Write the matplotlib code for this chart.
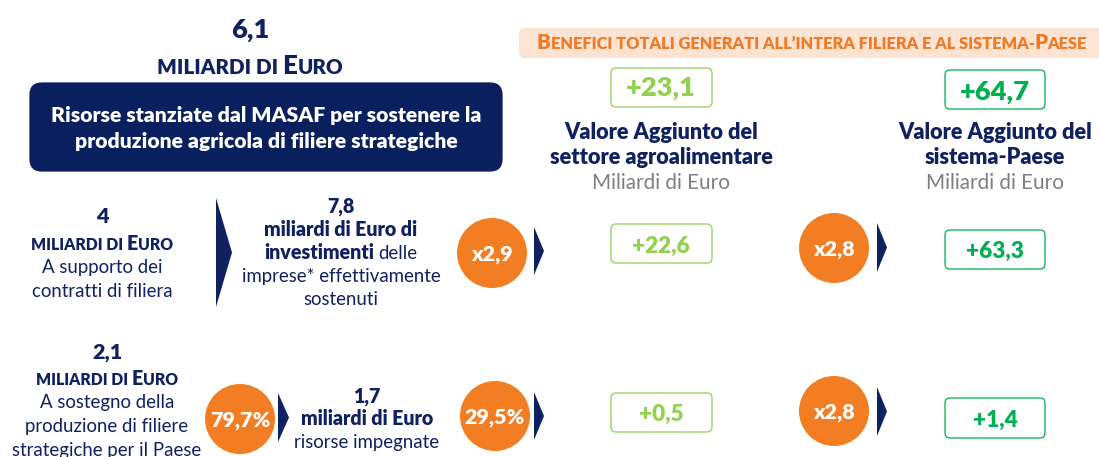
import matplotlib
matplotlib.use('Agg')
import matplotlib.pyplot as plt
from matplotlib.patches import FancyBboxPatch, Circle, Polygon

# ---------------- data ----------------
total_value = '6,1'
unit_label = 'miliardi di Euro'
title_lines = ['Risorse stanziate dal MASAF per sostenere la',
               'produzione agricola di filiere strategiche']
header_text = 'Benefici totali generati all\u2019intera filiera e al sistema-Paese'
row_amounts = ['4', '2,1']
row_desc = [['A supporto dei', 'contratti di filiera'],
            ['A sostegno della', 'produzione di filiere', 'strategiche per il Paese']]
mid_amounts = ['7,8', '1,7']
multiplier_invest = 'x2,9'
percent_labels = ['79,7%', '29,5%']
multiplier_country = ['x2,8', 'x2,8']
va_sector_total = '+23,1'
va_country_total = '+64,7'
va_sector = ['+22,6', '+0,5']
va_country = ['+63,3', '+1,4']
col_titles = [['Valore Aggiunto del', 'settore agroalimentare'],
              ['Valore Aggiunto del', 'sistema-Paese']]
col_unit = 'Miliardi di Euro'

# ---------------- style ----------------
W, H = 1099, 457
FONT = ['Lato', 'DejaVu Sans']
B = 'heavy'
R = 'normal'
NAVY = '#0F2160'
BOXNAVY = '#0A1F5E'
ORANGE = '#F37D22'
PEACH = '#FCE3D2'
HEADOR = '#F07A26'
LGREEN = '#92D050'
DGREEN = '#00B050'
GRAY = '#7F7F7F'

fig = plt.figure(figsize=(W / 100, H / 100), dpi=100)
ax = fig.add_axes([0, 0, 1, 1])
ax.set_xlim(0, W)
ax.set_ylim(H, 0)
ax.axis('off')
renderer = fig.canvas.get_renderer()


def tw(s, size, weight):
    t = ax.text(0, 0, s, fontsize=size, fontweight=weight, family=FONT)
    w = t.get_window_extent(renderer).width
    t.remove()
    return w


_sp = {}


def space_w(size, weight):
    k = (round(size, 3), weight)
    if k not in _sp:
        _sp[k] = tw('x x', size, weight) - tw('xx', size, weight)
    return _sp[k]


def runs_width(runs):
    total = 0
    pieces = []
    for s, size, weight, color in runs:
        lead = len(s) - len(s.lstrip(' '))
        trail = len(s) - len(s.rstrip(' '))
        core = s.strip(' ')
        sw = space_w(size, weight)
        total += lead * sw
        pieces.append((total, core, size, weight, color))
        if core:
            total += tw(core, size, weight)
        total += trail * sw
    return total, pieces


def draw_runs(x, y, runs, ha='center'):
    total, pieces = runs_width(runs)
    x0 = x - total / 2 if ha == 'center' else x
    for off, core, size, weight, color in pieces:
        if core:
            ax.text(x0 + off, y, core, fontsize=size, fontweight=weight, color=color,
                    family=FONT, ha='left', va='baseline')


def sc_runs(text, size, weight, color, ratio=0.8):
    runs = []
    cur, cur_big = '', None
    for ch in text:
        big = ch.isalpha() and ch.isupper()
        if cur_big is None or big == cur_big or not ch.isalpha():
            if cur_big is None and ch.isalpha():
                cur_big = big
            cur += ch
        else:
            runs.append((cur, cur_big))
            cur, cur_big = ch, big
    if cur:
        runs.append((cur, cur_big))
    out = []
    for s, big in runs:
        out.append((s.upper(), size if big else size * ratio, weight, color))
    return out


def fit(s, weight, target):
    return 10 * target / tw(s, 10, weight)


def fit_sc(text, weight, target):
    w, _ = runs_width(sc_runs(text, 10, weight, 'k'))
    return 10 * target / w


def text(x, y, s, size, weight, color, ha='center'):
    ax.text(x, y, s, fontsize=size, fontweight=weight, color=color, family=FONT,
            ha=ha, va='baseline')


def rbox(x0, y0, x1, y1, fc, ec, r, lw=0.9):
    ax.add_patch(FancyBboxPatch((x0, y0), x1 - x0, y1 - y0,
                                boxstyle=f'round,pad=0,rounding_size={r}',
                                fc=fc, ec=ec, lw=lw))


def chevron(x0, x1, y0, y1):
    ax.add_patch(Polygon([(x0, y0), (x1, (y0 + y1) / 2), (x0, y1)], closed=True,
                         fc=NAVY, ec='none'))


def circle_label(cx, cy, r, s, size):
    ax.add_patch(Circle((cx, cy), r, fc=ORANGE, ec='none'))
    cap = 0.72 * size * 100 / 72
    text(cx, cy + cap / 2, s, size, B, 'white')


# ---------------- sizes (fitted to reference widths) ----------------
S_TOPNUM = fit(total_value, B, 38)
S_SC_TOP = fit_sc(unit_label, B, 186)
S_SC_ROW = fit_sc(unit_label, B, 142)
S_BOX = fit(title_lines[0], B, 433)
S_HEAD = fit_sc(header_text, B, 551)
S_COLT = (fit(col_titles[0][0], B, 192) + fit(col_titles[0][1], B, 227)) / 2
S_GRAY = fit(col_unit, R, 138)
S_BODY = fit('imprese* effettivamente', R, 200)
S_BOLDROW = fit('miliardi di Euro di', B, 155)
S_ROWNUM = fit(row_amounts[1], B, 30)
S_VALBIG = fit(va_sector_total, B, 70)
S_VAL = fit(va_country[0], B, 58)
S_CIRC = fit(percent_labels[0], B, 60)

# ---------------- top-left block ----------------
text(250, 38, total_value, S_TOPNUM, B, NAVY)
draw_runs(250, 74, sc_runs(unit_label, S_SC_TOP, B, NAVY))
rbox(30, 83, 502, 171, BOXNAVY, BOXNAVY, 12)
text(266, 122, title_lines[0], S_BOX, B, 'white')
text(266, 148, title_lines[1], S_BOX, B, 'white')

# ---------------- header band ----------------
rbox(519, 28, 1110, 58, PEACH, 'none', 6, lw=0)
draw_runs(812, 49, sc_runs(header_text, S_HEAD, B, HEADOR))

# ---------------- column titles ----------------
col_x = [661, 995]
for cx, lines in zip(col_x, col_titles):
    text(cx, 139, lines[0], S_COLT, B, NAVY)
    text(cx, 164, lines[1], S_COLT, B, NAVY)
    text(cx, 189, col_unit, S_GRAY, R, GRAY)

rbox(611, 68, 712, 107, 'white', LGREEN, 5)
text(661, 96, va_sector_total, S_VALBIG, B, LGREEN)
rbox(945, 70, 1045, 109, 'white', DGREEN, 5)
text(995, 100, va_country_total, S_VALBIG, B, DGREEN)

# ---------------- row blocks (left column) ----------------
left_x = [102, 107]
left_base = [223, 358]
for i in range(2):
    y = left_base[i]
    text(left_x[i], y, row_amounts[i], S_ROWNUM, B, NAVY)
    draw_runs(left_x[i], y + 27, sc_runs(unit_label, S_SC_ROW, B, NAVY))
    for j, ln in enumerate(row_desc[i]):
        text(left_x[i], y + 50 + 24 * j, ln, S_BODY, R, NAVY)

# row 1 middle
chevron(216, 232, 198, 307)
text(341, 213, mid_amounts[0], S_BOLDROW, B, NAVY)
text(341, 236, 'miliardi di Euro di', S_BOLDROW, B, NAVY)
draw_runs(341, 259, [('investimenti ', S_BOLDROW, B, NAVY),
                     ('delle', S_BODY, R, NAVY)])
text(341, 282, 'imprese* effettivamente', S_BODY, R, NAVY)
text(341, 305, 'sostenuti', S_BODY, R, NAVY)

# row 2 middle
circle_label(240, 419, 35, percent_labels[0], S_CIRC)
chevron(278, 289, 393, 442)
text(367, 402, mid_amounts[1], S_BOLDROW, B, NAVY)
text(367, 425, 'miliardi di Euro', S_BOLDROW, B, NAVY)
text(367, 448, 'risorse impegnate', S_BODY, R, NAVY)

# second stage
circle_label(492, 253, 35, multiplier_invest, S_CIRC)
chevron(534, 544, 227, 275)
circle_label(495, 416, 35, percent_labels[1], S_CIRC)
chevron(534, 544, 392, 440)

# sector value boxes
rbox(611, 224, 712, 263, 'white', LGREEN, 5)
text(661, 253, va_sector[0], S_VAL, B, LGREEN)
rbox(611, 393, 712, 432, 'white', LGREEN, 5)
text(661, 421, va_sector[1], S_VAL, B, LGREEN)

# country multipliers
circle_label(834, 248, 35, multiplier_country[0], S_CIRC)
chevron(877, 887, 223, 272)
circle_label(834, 411, 35, multiplier_country[1], S_CIRC)
chevron(877, 887, 387, 436)

# country value boxes
rbox(945, 230, 1045, 269, 'white', DGREEN, 5)
text(995, 258, va_country[0], S_VAL, B, DGREEN)
rbox(945, 398, 1045, 438, 'white', DGREEN, 5)
text(995, 427, va_country[1], S_VAL, B, DGREEN)

fig.savefig('out.png', dpi=100, facecolor='white')
